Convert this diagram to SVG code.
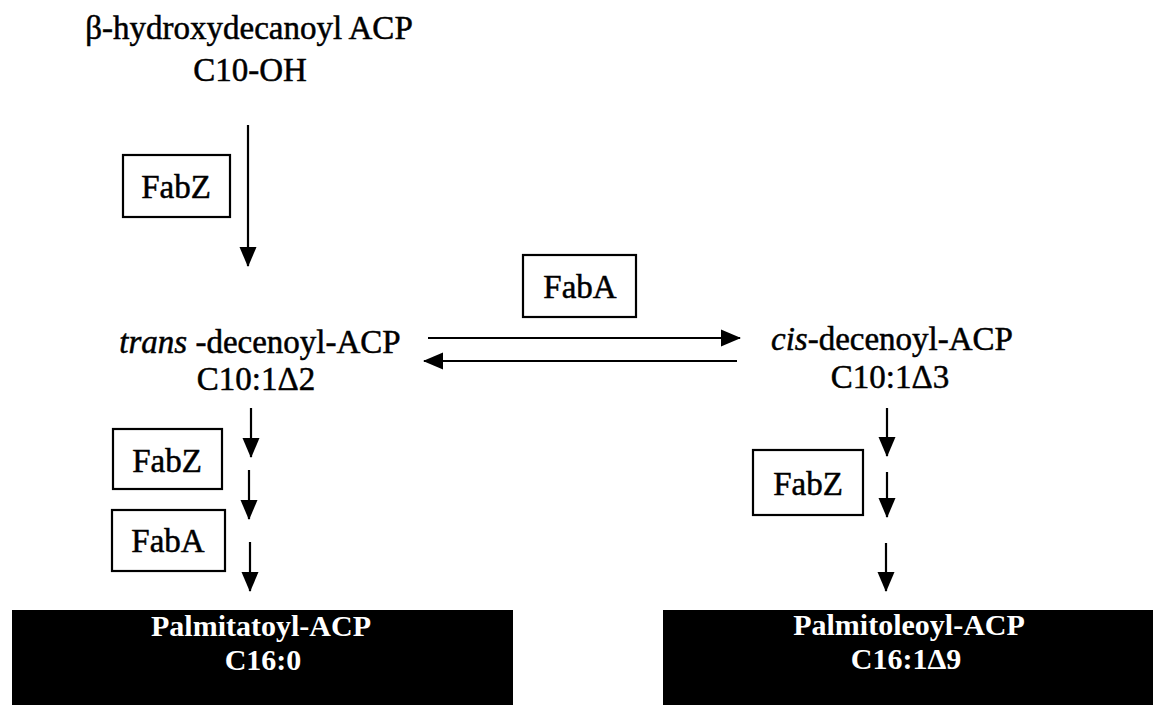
<svg xmlns="http://www.w3.org/2000/svg" width="1153" height="705" viewBox="0 0 1153 705">
<style>
.t{font-family:"Liberation Serif","Times New Roman",serif;font-size:33px;fill:#000;stroke:#000;stroke-width:0.5;text-anchor:middle}
.w{font-family:"Liberation Serif","Times New Roman",serif;font-size:30px;font-weight:bold;fill:#fff;text-anchor:middle}
.box{fill:#fff;stroke:#000;stroke-width:2.2}
.dark{fill:#000}
.ln{stroke:#000;stroke-width:2.2;fill:none}
</style>
<defs>
<marker id="ah" markerWidth="20" markerHeight="18" refX="19" refY="8.5" orient="auto" markerUnits="userSpaceOnUse" viewBox="0 0 20 17">
<path d="M0,0 L20,8.5 L0,17 Z" fill="#000"/>
</marker>
</defs>
<rect width="1153" height="705" fill="#fff"/>

<g id="n-hydroxy">
<text class="t" x="249" y="39">β-hydroxydecanoyl ACP</text>
<text class="t" x="250" y="81">C10-OH</text>
</g>

<g id="n-fabz1">
<rect class="box" x="123" y="155" width="107" height="62"/>
<text class="t" x="176" y="198">FabZ</text>
</g>

<g id="n-trans">
<text class="t" x="260" y="353"><tspan font-style="italic">trans</tspan> -decenoyl-ACP</text>
<text class="t" x="256" y="390">C10:1Δ2</text>
</g>

<g id="n-faba-top">
<rect class="box" x="523" y="255" width="113" height="62"/>
<text class="t" x="580" y="298">FabA</text>
</g>

<g id="n-cis">
<text class="t" x="892" y="350"><tspan font-style="italic">cis</tspan>-decenoyl-ACP</text>
<text class="t" x="890" y="388">C10:1Δ3</text>
</g>

<g id="n-fabz2">
<rect class="box" x="113" y="429" width="109" height="60"/>
<text class="t" x="167" y="472">FabZ</text>
</g>

<g id="n-faba2">
<rect class="box" x="112" y="510" width="113" height="61"/>
<text class="t" x="168" y="552">FabA</text>
</g>

<g id="n-fabz3">
<rect class="box" x="753" y="450" width="110" height="65"/>
<text class="t" x="808" y="495">FabZ</text>
</g>

<g id="n-palmitatoyl">
<rect class="dark" x="12" y="610" width="501" height="100"/>
<text class="w" x="261" y="636">Palmitatoyl-ACP</text>
<text class="w" x="263" y="670">C16:0</text>
</g>

<g id="n-palmitoleoyl">
<rect class="dark" x="663" y="610" width="495" height="100"/>
<text class="w" x="909" y="635">Palmitoleoyl-ACP</text>
<text class="w" x="906" y="669">C16:1Δ9</text>
</g>

<g id="connectors">
<line class="ln" x1="248" y1="125" x2="248" y2="266" marker-end="url(#ah)"/>
<line class="ln" x1="428" y1="338" x2="740" y2="338" marker-end="url(#ah)"/>
<line class="ln" x1="737" y1="361" x2="424" y2="361" marker-end="url(#ah)"/>
<line class="ln" x1="251" y1="408" x2="251" y2="457" marker-end="url(#ah)"/>
<line class="ln" x1="249" y1="470" x2="249" y2="519" marker-end="url(#ah)"/>
<line class="ln" x1="250" y1="542" x2="250" y2="591" marker-end="url(#ah)"/>
<line class="ln" x1="887" y1="408" x2="887" y2="456" marker-end="url(#ah)"/>
<line class="ln" x1="887" y1="472" x2="887" y2="517" marker-end="url(#ah)"/>
<line class="ln" x1="886" y1="543" x2="886" y2="591" marker-end="url(#ah)"/>
</g>
</svg>
